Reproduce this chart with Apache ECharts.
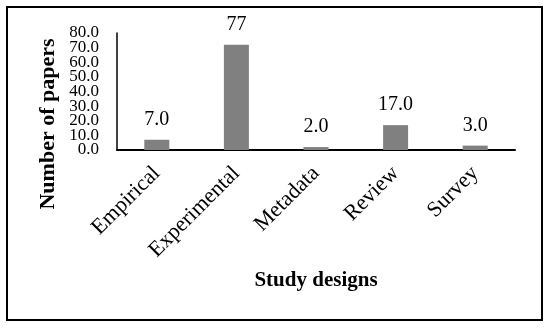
<!DOCTYPE html>
<html>
<head>
<meta charset="utf-8">
<script src="https://cdn.jsdelivr.net/npm/echarts@6/dist/echarts.min.js"></script>
<style>
html,body{margin:0;padding:0;background:#fff;}
#c{width:550px;height:329px;}
</style>
</head>
<body>
<div id="c"></div>
<script>
var categories = ["Empirical", "Experimental", "Metadata", "Review", "Survey"];
var paperCounts = [7, 72, 2, 17, 3];
var valueLabels = ["7.0", "77", "2.0", "17.0", "3.0"];
var yTickMin = 0, yTickMax = 80, yTickStep = 10;
var xTitle = "Study designs";
var yTitle = "Number of papers";

var FONT = "Liberation Serif";
function yAxisFor(parity, showLine) {
  return {
    type: 'value',
    position: 'left',
    offset: 0,
    min: yTickMin, max: yTickMax, interval: yTickStep,
    splitLine: {show: false},
    axisLine: {show: showLine, lineStyle: {color: '#000', width: 1.5}},
    axisTick: {show: false},
    axisLabel: {margin: 18, color: '#000', fontFamily: FONT, fontSize: 17, hideOverlap: false,
      showMinLabel: true, showMaxLabel: true,
      formatter: function (v) {
        return (Math.round(v / yTickStep) % 2 === parity) ? v.toFixed(1) : '';
      }}
  };
}
var chart = echarts.init(document.getElementById('c'), null, {renderer: 'canvas'});
chart.setOption({
  animation: false,
  backgroundColor: '#fff',
  grid: {left: 117, right: 35, top: 33, bottom: 179, containLabel: false},
  xAxis: {
    type: 'category',
    data: categories,
    axisLine: {lineStyle: {color: '#000', width: 2}},
    axisTick: {show: false},
    axisLabel: {rotate: 45, margin: 20, color: '#000', fontFamily: FONT, fontSize: 22, interval: 0, hideOverlap: false}
  },
  yAxis: [yAxisFor(0, true), yAxisFor(1, false)],
  series: [{
    type: 'bar',
    yAxisIndex: 0,
    data: paperCounts,
    barWidth: 25,
    itemStyle: {color: '#808080'},
    label: {
      show: true, position: 'top', distance: 10,
      color: '#000', fontFamily: FONT, fontSize: 20,
      formatter: function (p) { return valueLabels[p.dataIndex]; }
    }
  }],
  graphic: [
    {type: 'rect', shape: {x: 7, y: 7, width: 535, height: 313}, style: {fill: 'none', stroke: '#000', lineWidth: 2}, silent: true},
    {type: 'text', x: 316, y: 281, style: {text: xTitle, font: 'bold 21px "Liberation Serif"', fill: '#000', textAlign: 'center', textVerticalAlign: 'middle'}},
    {type: 'text', x: 48, y: 124, rotation: Math.PI / 2, style: {text: yTitle, font: 'bold 22px "Liberation Serif"', fill: '#000', textAlign: 'center', textVerticalAlign: 'middle'}}
  ]
});
</script>
</body>
</html>
